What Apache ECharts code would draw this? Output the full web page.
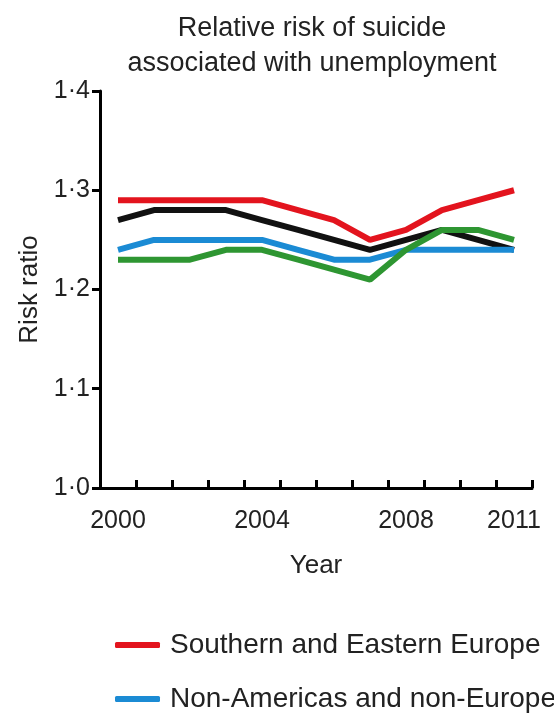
<!DOCTYPE html>
<html>
<head>
<meta charset="utf-8">
<script src="https://cdn.jsdelivr.net/npm/echarts@6/dist/echarts.min.js"></script>
<style>html,body{margin:0;padding:0;background:#fff}#c{width:554px;height:714px}</style>
</head>
<body>
<div id="c"></div>
<script>
const years = ['2000','2001','2002','2003','2004','2005','2006','2007','2008','2009','2010','2011'];
const yearLabels = ['2000','2004','2008','2011'];
const southernEastern = [1.29,1.29,1.29,1.29,1.29,1.28,1.27,1.25,1.26,1.28,1.29,1.30];
const nonAmericasNonEurope = [1.24,1.25,1.25,1.25,1.25,1.24,1.23,1.23,1.24,1.24,1.24,1.24];
const seriesBlack = [1.27,1.28,1.28,1.28,1.27,1.26,1.25,1.24,1.25,1.26,1.25,1.24];
const seriesGreen = [1.23,1.23,1.23,1.24,1.24,1.23,1.22,1.21,1.24,1.26,1.26,1.25];
const names = ['Southern and Eastern Europe','Non-Americas and non-Europe','Other group A','Other group B'];

const font = 'Liberation Sans, Arial, sans-serif';
const txt = '#222';
const legendBase = {
  orient:'vertical', left:110, itemWidth:45, itemHeight:6, icon:'roundRect',
  textStyle:{fontFamily:font,fontSize:28,color:txt,padding:[0,0,0,5]}
};

const chart = echarts.init(document.getElementById('c'), null, {renderer:'canvas'});
chart.setOption({
  animation:false,
  backgroundColor:'#fff',
  title:{
    text:'Relative risk of suicide\nassociated with unemployment',
    left:307, top:6, textAlign:'center',
    textStyle:{fontFamily:font,fontSize:27,fontWeight:'normal',color:txt,lineHeight:35}
  },
  legend:[
    Object.assign({}, legendBase, {data:[names[0]], top:626}),
    Object.assign({}, legendBase, {data:[names[1]], top:680})
  ],
  grid:{left:100, right:22, top:91, bottom:226},
  xAxis:{type:'category', data:years, boundaryGap:true,
     name:'Year', nameLocation:'middle', nameGap:65,
     nameTextStyle:{fontFamily:font,fontSize:26,color:txt},
     axisLine:{lineStyle:{color:'#000',width:3}},
     axisTick:{show:true,inside:true,length:8,interval:0,lineStyle:{color:'#000',width:3}},
     axisLabel:{fontFamily:font,fontSize:25,color:txt,margin:21,
       interval:0, formatter:v=>yearLabels.includes(v)?v:''},
     splitLine:{show:false}},
  yAxis:{type:'value', min:1.0, max:1.4, interval:0.1,
     name:'Risk ratio', nameLocation:'middle', nameGap:57,
     nameTextStyle:{fontFamily:font,fontSize:26,color:txt},
     axisLine:{show:true,lineStyle:{color:'#000',width:3}},
     axisTick:{show:true,length:8,lineStyle:{color:'#000',width:3}},
     axisLabel:{fontFamily:font,fontSize:25,color:txt,margin:10,
       formatter:v=>v.toFixed(1).replace('.','\u00b7')},
     splitLine:{show:false}},
  series:[
    {name:names[2], type:'line', data:seriesBlack,
     symbol:'none', lineStyle:{color:'#111',width:6}, itemStyle:{color:'#111'}},
    {name:names[1], type:'line', data:nonAmericasNonEurope,
     symbol:'none', lineStyle:{color:'#1b8bd4',width:6}, itemStyle:{color:'#1b8bd4'}},
    {name:names[3], type:'line', data:seriesGreen,
     symbol:'none', lineStyle:{color:'#2e9632',width:6}, itemStyle:{color:'#2e9632'}},
    {name:names[0], type:'line', data:southernEastern,
     symbol:'none', lineStyle:{color:'#e3141e',width:6}, itemStyle:{color:'#e3141e'}}
  ]
});
</script>
</body>
</html>
